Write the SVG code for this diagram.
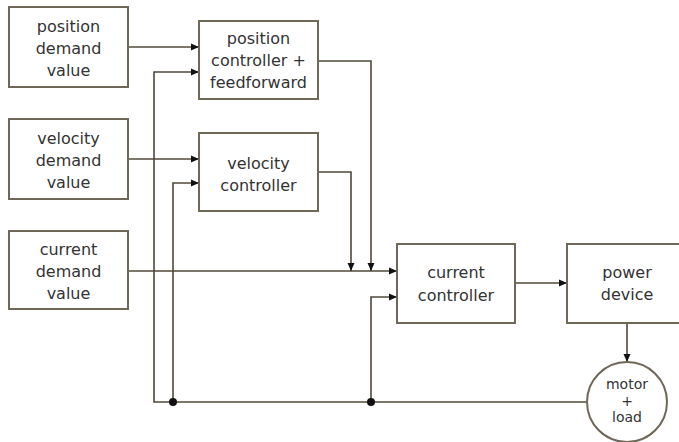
<svg xmlns="http://www.w3.org/2000/svg" width="679" height="442" viewBox="0 0 679 442">
  <style>
    .box { fill: #ffffff; stroke: #6f6757; stroke-width: 2; }
    .wire { fill: none; stroke: #50483a; stroke-width: 1.6; }
    .lbl { font-family: "DejaVu Sans", sans-serif; font-size: 16px; fill: #333333; text-anchor: middle; }
    .small { font-size: 14px; }
    .dot { fill: #111111; }
  </style>
  <defs>
    <marker id="arrow" viewBox="0 0 8 8" refX="8" refY="4" markerWidth="8" markerHeight="8" markerUnits="userSpaceOnUse" orient="auto">
      <path d="M0,0.5 L8,4 L0,7.5 Z" fill="#111111"/>
    </marker>
  </defs>
  <rect width="679" height="442" fill="#ffffff"/>

  <!-- signal paths -->
  <g id="connectors">
    <path class="wire" d="M128,47 H199" marker-end="url(#arrow)"/>
    <path class="wire" d="M128,159 H199" marker-end="url(#arrow)"/>
    <path class="wire" d="M128,271 H397" marker-end="url(#arrow)"/>
    <path class="wire" d="M318,61 H371 V271" marker-end="url(#arrow)"/>
    <path class="wire" d="M318,172 H351 V271" marker-end="url(#arrow)"/>
    <path class="wire" d="M515,283 H567" marker-end="url(#arrow)"/>
    <path class="wire" d="M627,323 V362" marker-end="url(#arrow)"/>
    <!-- feedback bus from the motor -->
    <path class="wire" d="M587,402 H154 V72 H199" marker-end="url(#arrow)"/>
    <path class="wire" d="M173,402 V183 H199" marker-end="url(#arrow)"/>
    <path class="wire" d="M371,402 V297 H397" marker-end="url(#arrow)"/>
    <circle class="dot" cx="173" cy="402" r="4"/>
    <circle class="dot" cx="371" cy="402" r="4"/>
  </g>

  <g id="position-demand">
    <rect class="box" x="9" y="7" width="119" height="80"/>
    <text class="lbl" x="68.5" y="32">position</text>
    <text class="lbl" x="68.5" y="54">demand</text>
    <text class="lbl" x="68.5" y="76">value</text>
  </g>

  <g id="velocity-demand">
    <rect class="box" x="9" y="119" width="119" height="80"/>
    <text class="lbl" x="68.5" y="144">velocity</text>
    <text class="lbl" x="68.5" y="166">demand</text>
    <text class="lbl" x="68.5" y="188">value</text>
  </g>

  <g id="current-demand">
    <rect class="box" x="9" y="231" width="119" height="78"/>
    <text class="lbl" x="68.5" y="255">current</text>
    <text class="lbl" x="68.5" y="277">demand</text>
    <text class="lbl" x="68.5" y="299">value</text>
  </g>

  <g id="position-controller">
    <rect class="box" x="199" y="21" width="119" height="78"/>
    <text class="lbl" x="258.5" y="44">position</text>
    <text class="lbl" x="258.5" y="66">controller +</text>
    <text class="lbl" x="258.5" y="88">feedforward</text>
  </g>

  <g id="velocity-controller">
    <rect class="box" x="199" y="133" width="119" height="78"/>
    <text class="lbl" x="258.5" y="169">velocity</text>
    <text class="lbl" x="258.5" y="191">controller</text>
  </g>

  <g id="current-controller">
    <rect class="box" x="397" y="244" width="118" height="79"/>
    <text class="lbl" x="456" y="278">current</text>
    <text class="lbl" x="456" y="301">controller</text>
  </g>

  <g id="power-device">
    <rect class="box" x="567" y="244" width="120" height="79"/>
    <text class="lbl" x="627" y="278">power</text>
    <text class="lbl" x="627" y="300">device</text>
  </g>

  <g id="motor-load">
    <circle class="box" cx="627" cy="402" r="40"/>
    <text class="lbl small" x="627" y="389">motor</text>
    <text class="lbl small" x="627" y="405.5">+</text>
    <text class="lbl small" x="627" y="422">load</text>
  </g>
</svg>
